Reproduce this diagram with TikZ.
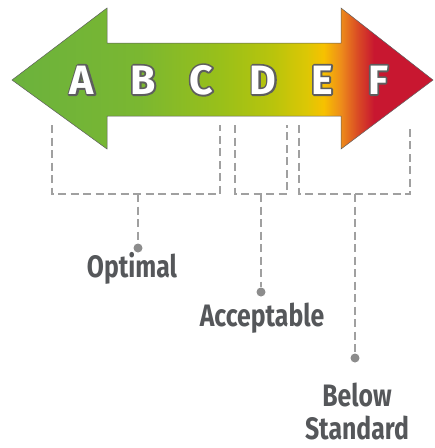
\documentclass[tikz,border=0pt]{standalone}
\usepackage{fontspec}
\setmainfont{Fira Sans}
\newfontfamily\labelfont[FakeStretch=0.8]{Fira Sans}
\usepackage{xcolor}
\usetikzlibrary{positioning}
\definecolor{rgreen}{HTML}{6BB23D}
\definecolor{rgreenb}{HTML}{7AB731}
\definecolor{rlime}{HTML}{9AC019}
\definecolor{rlimeb}{HTML}{B9C40C}
\definecolor{rmustard}{HTML}{DCC705}
\definecolor{ryellow}{HTML}{F7C100}
\definecolor{rorange}{HTML}{EE8E1A}
\definecolor{rredorange}{HTML}{DA4C24}
\definecolor{rred}{HTML}{C81730}
\definecolor{dashgray}{HTML}{A0A0A0}
\definecolor{dotgray}{HTML}{8C8C8C}
\definecolor{textgray}{HTML}{55575A}
\definecolor{outlinegray}{HTML}{5E5E5E}
\pgfdeclarehorizontalshading{ratingscale}{100bp}{color(0bp)=(rgreen); color(25bp)=(rgreen); color(40bp)=(rgreenb); color(50bp)=(rlime); color(56bp)=(rlimeb); color(60bp)=(rmustard); color(62bp)=(ryellow); color(64bp)=(rorange); color(66bp)=(rredorange); color(68bp)=(rred); color(100bp)=(rred)}
% grey stroke under a white letter
\newcommand{\stroked}[1]{\special{pdf:code 0.37 G 3.6 w 1 j 1 Tr}#1\special{pdf:code 0 Tr}}
\newcommand{\ratingletter}[3]{%
  \node[letter] (#3-edge) at (#1,#2) {\stroked{#3}};
  \node[letter, text=white] (#3) at (#1,#2) {#3};
}

\begin{document}
\begin{tikzpicture}[
    x=1pt, y=-1pt,
    letter/.style={font=\fontsize{41}{41}\selectfont\bfseries, inner sep=0pt},
    verdict/.style={font=\labelfont\fontsize{31}{33}\selectfont\bfseries, text=textgray, align=center, inner sep=0pt},
    bracket/.style={draw=dashgray, line width=2.6pt, dash pattern=on 8pt off 4.5pt},
    pin/.style={circle, fill=dotgray, minimum size=9pt, inner sep=0pt}
]
\useasboundingbox (0,0) rectangle (435,448);

% Double arrow with the rating scale
\shade[shading=ratingscale, draw=outlinegray, line width=0.5pt]
  (12,80) -- (107,8) -- (107,43) -- (341,43) -- (341,8) -- (433,80)
  -- (341,149) -- (341,116) -- (107,116) -- (107,149) -- cycle;

% Letters
\ratingletter{82}{80}{A}
\ratingletter{143}{80}{B}
\ratingletter{201}{80}{C}
\ratingletter{263}{80}{D}
\ratingletter{322}{80}{E}
\ratingletter{378}{80}{F}

% Bracket corners
\coordinate (opt-l) at (52,125);
\coordinate (opt-r) at (220,125);
\coordinate (opt-m) at (138,194);
\coordinate (acc-l) at (235,125);
\coordinate (acc-r) at (287,125);
\coordinate (acc-m) at (261,194);
\coordinate (bel-l) at (299,125);
\coordinate (bel-r) at (410,125);
\coordinate (bel-m) at (355,194);

% Pins and labels
\node[pin] (opt-pin) at (138,248) {};
\node[pin] (acc-pin) at (261,292) {};
\node[pin] (bel-pin) at (355,358) {};

\node[verdict] (optimal) at (132,268) {Optimal};
\node[verdict] (acceptable) at (262,318) {Acceptable};
\node[verdict] (below) at (357,411) {Below\\Standard};

% Dashed brackets
\draw[bracket] (opt-l) |- (opt-m) -| (opt-r);
\draw[bracket] (acc-l) |- (acc-m) -| (acc-r);
\draw[bracket] (bel-l) |- (bel-m) -| (bel-r);
\draw[bracket] (opt-m) -- (opt-pin);
\draw[bracket] (acc-m) -- (acc-pin);
\draw[bracket] (bel-m) -- (bel-pin);

\end{tikzpicture}
\end{document}
